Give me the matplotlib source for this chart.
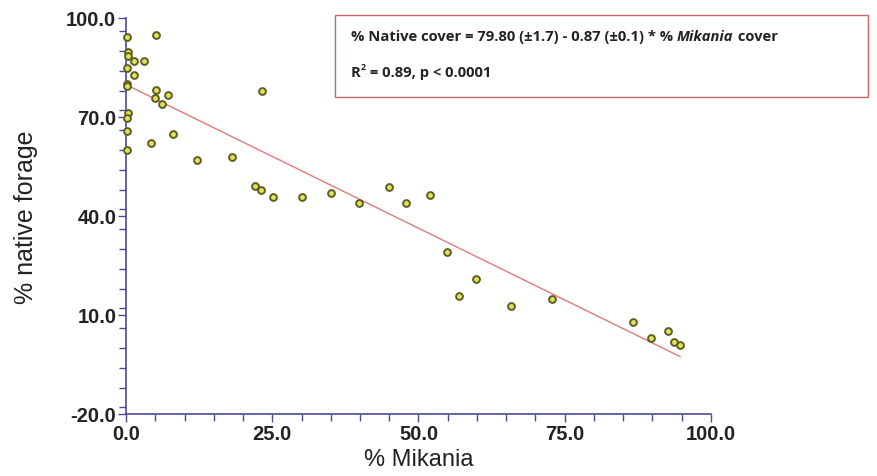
import numpy as np
import matplotlib
matplotlib.use("Agg")
import matplotlib.pyplot as plt
from matplotlib.ticker import MultipleLocator

# values
mikania = [0.2, 5.1, 0.3, 0.3, 1.3, 3.1, 0.1, 1.3, 0.2, 0.2, 5.1, 5.0, 7.1,
           6.1, 23.2, 0.3, 0.2, 0.2, 8.1, 4.2, 0.2, 12.2, 18.1, 22.1, 23.1,
           25.1, 30.0, 35.0, 39.9, 44.9, 47.9, 52.0, 54.9, 56.9, 59.9, 65.8,
           72.8, 86.7, 89.7, 92.7, 93.7, 94.7]
native = [94.3, 94.9, 89.6, 88.4, 87.0, 87.1, 84.9, 82.7, 80.0, 79.3, 78.3,
          75.8, 76.8, 73.8, 77.8, 71.2, 69.7, 65.9, 65.0, 62.0, 60.0, 56.9,
          57.9, 49.0, 47.9, 45.9, 45.9, 46.9, 44.0, 48.9, 44.0, 46.5, 29.0,
          15.9, 20.9, 12.8, 15.0, 7.8, 2.9, 5.1, 1.7, 1.0]
intercept = 79.80
slope = -0.87
x_ticks = [0.0, 25.0, 50.0, 75.0, 100.0]
y_ticks = [-20.0, 10.0, 40.0, 70.0, 100.0]

axis_color = "#4b4b96"
W, H = 877, 477

fig = plt.figure(figsize=(8.77, 4.77), dpi=100)
ax = fig.add_axes([126 / W, 1 - 415 / H, 585 / W, 396 / H])

fit_x = np.array([0.0, max(mikania)])
ax.plot(fit_x, intercept + slope * fit_x, color="#e07a7a", lw=1.0, zorder=2)
ax.scatter(mikania, native, s=24, facecolor="#e2e25e", edgecolor="#5e5e22",
           linewidth=1.4, zorder=3, clip_on=False)

ax.set_xlim(0, 100)
ax.set_ylim(-20, 100)
ax.set_xticks(x_ticks)
ax.set_yticks(y_ticks)
ax.set_xticklabels([f"{v:.1f}" for v in x_ticks])
ax.set_yticklabels([f"{v:.1f}" for v in y_ticks])
ax.xaxis.set_minor_locator(MultipleLocator(5))
ax.yaxis.set_minor_locator(MultipleLocator(6))

for side in ("top", "right"):
    ax.spines[side].set_visible(False)
for side in ("left", "bottom"):
    ax.spines[side].set_color(axis_color)
    ax.spines[side].set_linewidth(1.2)

ax.tick_params(which="major", length=6, width=1.0, color=axis_color,
               labelsize=14.5, pad=1)
ax.tick_params(which="minor", length=5, width=1.0, color=axis_color)
for lab in ax.get_xticklabels() + ax.get_yticklabels():
    lab.set_fontweight("bold")
    lab.set_family("Liberation Sans")
    lab.set_color("#222222")

ax.set_xlabel("% Mikania", fontsize=17, family="Liberation Sans",
              labelpad=4, color="#222222")
ax.set_ylabel("% native forage", fontsize=18, family="Liberation Sans",
              labelpad=20, color="#222222")

# equation box
box = plt.Rectangle((335 / W, 1 - 98 / H), 533 / W, 82 / H,
                    transform=fig.transFigure, fill=False,
                    edgecolor="#c86464", lw=1.0)
fig.add_artist(box)

renderer = fig.canvas.get_renderer()


def put_pieces(x_px, y_px, pieces, size):
    # place text pieces one after another along a line
    x = x_px
    for txt, style, dy, scale in pieces:
        t = fig.text(x / W, 1 - (y_px - dy) / H, txt, fontsize=size * scale,
                     fontweight="bold", fontstyle=style, family="Open Sans",
                     va="center", color="#222222")
        x = t.get_window_extent(renderer).x1


eq_size = 10.6
put_pieces(351, 37, [("% Native cover = 79.80 (±1.7) - 0.87 (±0.1) * % ",
                      "normal", 0, 1.0),
                     ("Mikania", "italic", 0, 1.0),
                     (" cover", "normal", 0, 1.0)], eq_size)
put_pieces(351, 73, [("R", "normal", 0, 1.0),
                     ("2", "normal", 5, 0.6),
                     (" = 0.89, p < 0.0001", "normal", 0, 1.0)], eq_size)

fig.savefig("out.png", dpi=100)
